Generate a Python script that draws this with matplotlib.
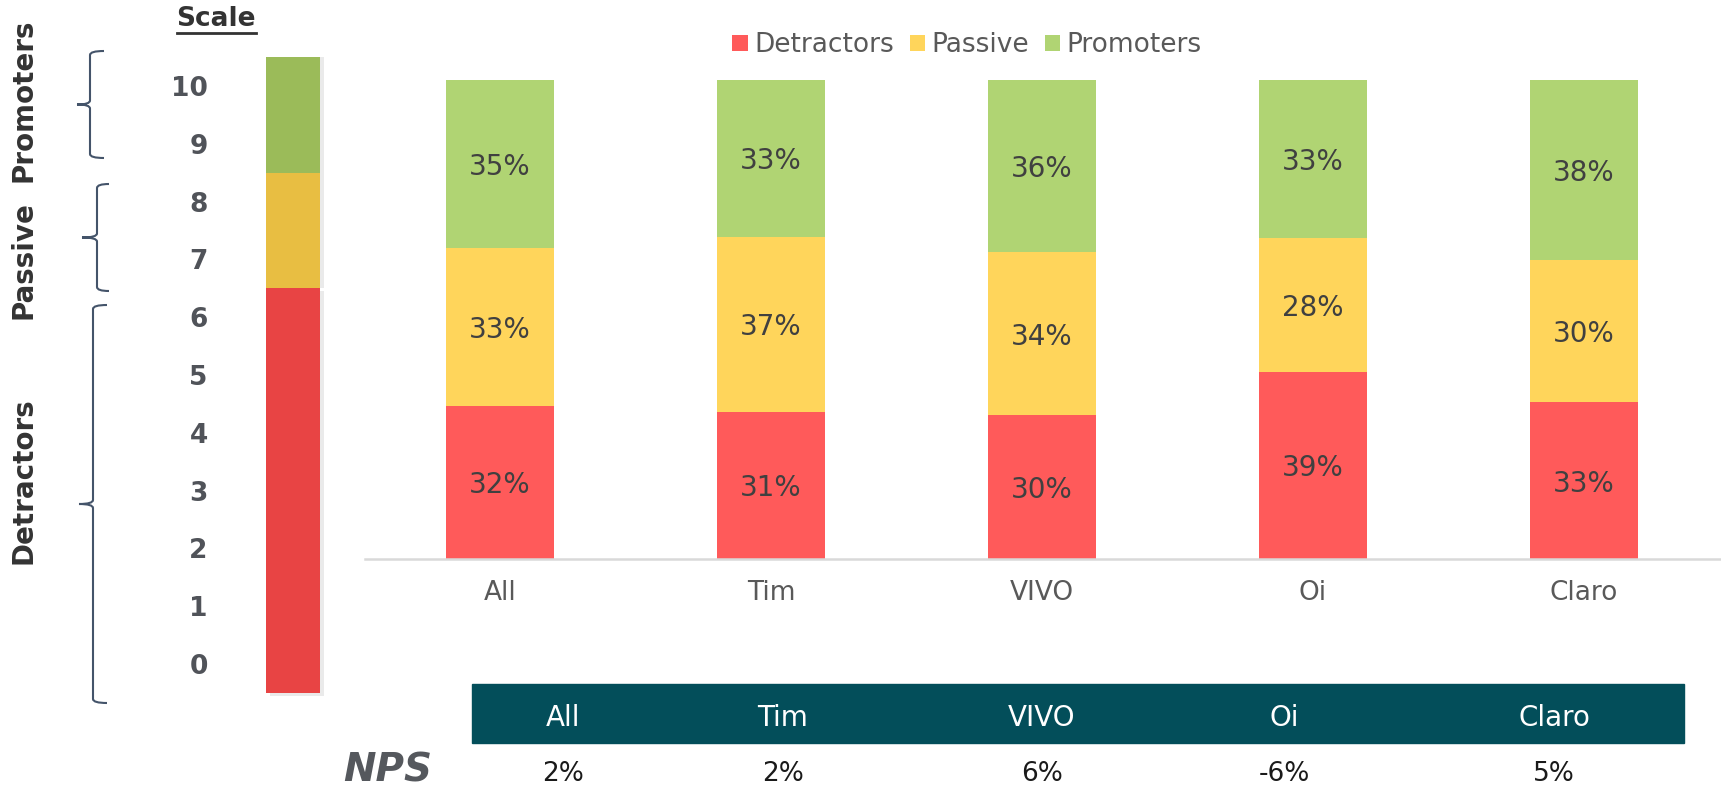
import matplotlib.pyplot as plt
import matplotlib.patheffects as pe
from matplotlib.path import Path
from matplotlib.patches import PathPatch, Rectangle

# Datos
carriers = ["All", "Tim", "VIVO", "Oi", "Claro"]
detractors = [32, 31, 30, 39, 33]
passive = [33, 37, 34, 28, 30]
promoters = [35, 33, 36, 33, 38]
nps = ["2%", "2%", "6%", "-6%", "5%"]

# Escala 0-10
scale_groups = ["Detractors", "Passive", "Promoters"]
scale_low = [0, 7, 9]
scale_high = [6, 8, 10]

series_names = ["Detractors", "Passive", "Promoters"]
bar_colors = ["#FF5A5A", "#FFD55B", "#B0D473"]
scale_colors = ["#E84444", "#E8BE42", "#9BBB59"]

W, H = 1721, 790
fig = plt.figure(figsize=(W / 100, H / 100), dpi=100)

# capa para anotaciones en pixeles
ov = fig.add_axes([0, 0, 1, 1])
ov.set_xlim(0, W)
ov.set_ylim(H, 0)
ov.axis("off")

# Grafico principal
ax = fig.add_axes([364.5 / W, (H - 559) / H, 1355 / W, 479 / H])
x = list(range(len(carriers)))
totales = [d + p + r for d, p, r in zip(detractors, passive, promoters)]
bottom = [0.0] * len(carriers)
for nombre, vals, color in zip(series_names, [detractors, passive, promoters], bar_colors):
    alturas = [v / t * 100 for v, t in zip(vals, totales)]
    ax.bar(x, alturas, 0.4, bottom=bottom, color=color, label=nombre)
    for xi, b, h, v in zip(x, bottom, alturas, vals):
        ax.text(xi, b + h / 2 - 0.6, f"{v}%", ha="center", va="center", fontsize=20, color="#404040")
    bottom = [b + h for b, h in zip(bottom, alturas)]

ax.set_xlim(-0.5, len(carriers) - 0.5)
ax.set_ylim(0, 100)
ax.set_xticks(x)
ax.set_xticklabels(carriers, fontsize=19, color="#595959")
ax.tick_params(axis="x", length=0, pad=15)
ax.set_yticks([])
for s in ["top", "left", "right"]:
    ax.spines[s].set_visible(False)
ax.spines["bottom"].set_color("#D9D9D9")
ax.spines["bottom"].set_linewidth(1.8)

fig.legend(loc="center", bbox_to_anchor=(967 / W, 1 - 45 / H), ncol=3, frameon=False,
           fontsize=19, labelcolor="#595959", handlelength=0.57, handleheight=0.57,
           handletextpad=0.25, columnspacing=0.6)

# Barra de escala
axs = fig.add_axes([266 / W, (H - 693) / H, 54 / W, 636 / H])
for lo, hi, color in zip(scale_low, scale_high, scale_colors):
    off = (3, -2) if lo == 0 else (3, 0)
    sombra = [pe.withSimplePatchShadow(offset=off, shadow_rgbFace="#999999", alpha=0.2), pe.Normal()]
    axs.bar(0.5, hi - lo + 1, 1, bottom=lo - 0.5, color=color, clip_on=False, path_effects=sombra)
axs.set_xlim(0, 1)
axs.set_ylim(-0.5, 10.5)
axs.set_xticks([])
axs.set_yticks(range(11))
axs.set_yticklabels([str(i) for i in range(11)], fontsize=19, fontweight="bold", color="#505359")
axs.tick_params(axis="y", length=0, pad=42)
for s in axs.spines.values():
    s.set_visible(False)

ov.text(216, 19, "Scale", ha="center", va="center", fontsize=19, fontweight="bold", color="#333333")
ov.plot([177, 256], [33, 33], color="#333333", lw=2)


def llave(x0, y0, y1, punta, gancho, r=4):
    ym = (y0 + y1) / 2
    verts = [(x0 + gancho, y0), (x0, y0), (x0, y0 + r),
             (x0, ym - r), (x0, ym), (punta, ym),
             (x0, ym), (x0, ym + r),
             (x0, y1 - r), (x0, y1), (x0 + gancho, y1)]
    codes = [Path.MOVETO, Path.CURVE3, Path.CURVE3,
             Path.LINETO, Path.CURVE3, Path.CURVE3,
             Path.CURVE3, Path.CURVE3,
             Path.LINETO, Path.CURVE3, Path.CURVE3]
    ov.add_patch(PathPatch(Path(verts, codes), fill=False, edgecolor="#44546A", lw=1.5))


llave(90, 51, 158, 77, 14)
llave(97, 184, 291, 82, 12)
llave(93, 305, 703, 79, 14)

for nombre, yc in zip(scale_groups, [481, 260, 100]):
    ov.text(24, yc, nombre, rotation=90, ha="center", va="center", fontsize=20,
            fontweight="bold", color="#333333")

# Tabla NPS
ov.add_patch(Rectangle((472, 684), 1212, 59, color="#034E5A"))
col_x = [563, 783, 1042, 1284, 1554]
for cx, c, v in zip(col_x, carriers, nps):
    ov.text(cx, 718, c, ha="center", va="center", fontsize=20, color="white")
    ov.text(cx, 774, v, ha="center", va="center", fontsize=19, color="#1A1A1A")
ov.text(388, 771, "NPS", ha="center", va="center", fontsize=28, fontweight="bold",
        fontstyle="italic", color="#55585D")

fig.savefig("out.png", dpi=100)
